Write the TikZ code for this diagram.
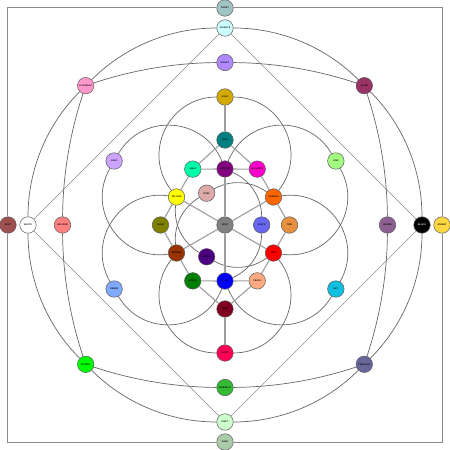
\documentclass[tikz,border=0pt]{standalone}
\usepackage{xcolor}

\definecolor{cCadet}{HTML}{A0C4C4}
\definecolor{cIce}{HTML}{CCFCFC}
\definecolor{cViolet}{HTML}{B088FF}
\definecolor{cPink}{HTML}{FF99CC}
\definecolor{cPlum}{HTML}{993366}
\definecolor{cGold}{HTML}{D4AA00}
\definecolor{cTeal}{HTML}{008080}
\definecolor{cLilac}{HTML}{CCA3FF}
\definecolor{cLime}{HTML}{A3FF80}
\definecolor{cAqua}{HTML}{00FFAA}
\definecolor{cPurple}{HTML}{800080}
\definecolor{cMagenta}{HTML}{FF00CC}
\definecolor{cYellow}{HTML}{FFFF00}
\definecolor{cRose}{HTML}{DDAAAA}
\definecolor{cOrange}{HTML}{FF6600}
\definecolor{cOlive}{HTML}{808000}
\definecolor{cGray}{HTML}{808080}
\definecolor{cSlate}{HTML}{6666EE}
\definecolor{cTan}{HTML}{E69040}
\definecolor{cBrown}{HTML}{993300}
\definecolor{cIndigo}{HTML}{4B0082}
\definecolor{cRed}{HTML}{FF0000}
\definecolor{cGreen}{HTML}{008000}
\definecolor{cBlue}{HTML}{0000FF}
\definecolor{cPeach}{HTML}{FFAA80}
\definecolor{cWine}{HTML}{800020}
\definecolor{cRuby}{HTML}{FF0055}
\definecolor{cRust}{HTML}{A05050}
\definecolor{cSalmon}{HTML}{FF8080}
\definecolor{cDenim}{HTML}{80AAFF}
\definecolor{cSky}{HTML}{10C0E0}
\definecolor{cMauve}{HTML}{8C6090}
\definecolor{cAmber}{HTML}{FFD740}
\definecolor{cSpring}{HTML}{00FF00}
\definecolor{cDusk}{HTML}{666699}
\definecolor{cEmerald}{HTML}{33BB33}
\definecolor{cMint}{HTML}{CCFFCC}
\definecolor{cSage}{HTML}{AACCAA}

\begin{document}
\begin{tikzpicture}[x=1pt, y=1pt,
  ball/.style={circle, draw=black!65, line width=0.5pt, minimum size=16.5pt,
    inner sep=0pt, font=\fontsize{2.3}{2.6}\selectfont\sffamily\bfseries},
  boxline/.style={draw=black!45, line width=1pt},
  spoke/.style={draw=black!38, line width=1.1pt},
  chord/.style={draw=black!45, line width=0.6pt},
  arcline/.style={draw=black!60, line width=0.7pt},
  petal/.style={arcline, looseness=1.18},
  inner/.style={arcline, looseness=0.93},
  rim/.style={arcline, bend left=22.5, looseness=0.885},
  belt/.style={arcline, bend left=9, looseness=0.85}]
\useasboundingbox (-225,-225) rectangle (225,225);

% outer frame nodes
\node[ball, fill=cCadet] (cadet) at (0,217) {CADET};
\node[ball, fill=cSage] (sage) at (0,-217) {SAGE};
\node[ball, fill=cRust] (rust) at (-217,0) {RUST};
\node[ball, fill=cAmber] (amber) at (217,0) {AMBER};

% big circle
\node[ball, fill=cIce] (ice) at (90:197) {CELESTE};
\node[ball, fill=cPlum] (plum) at (45:197) {PLUM};
\node[ball, fill=black, text=white] (black) at (0:197) {BLACK};
\node[ball, fill=cDusk] (dusk) at (-45:197) {TWILIGHT};
\node[ball, fill=cMint] (mint) at (-90:197) {MINT};
\node[ball, fill=cSpring] (spring) at (-135:197) {SPRING};
\node[ball, fill=white] (white) at (180:197) {WHITE};
\node[ball, fill=cPink] (pink) at (135:197) {FLAMINGO};

% second ring
\node[ball, fill=cViolet] (violet) at (90:162.5) {VIOLET};
\node[ball, fill=cMauve] (mauve) at (0:162.5) {MAUVE};
\node[ball, fill=cEmerald] (emerald) at (-90:162.5) {EMERALD};
\node[ball, fill=cSalmon] (salmon) at (180:162.5) {SALMON};

% petal tips
\node[ball, fill=cGold] (gold) at (90:128) {GOLD};
\node[ball, fill=cLime] (lime) at (30:128) {LIME};
\node[ball, fill=cSky] (sky) at (-30:128) {SKY};
\node[ball, fill=cRuby] (ruby) at (-90:128) {RUBY};
\node[ball, fill=cDenim] (denim) at (210:128) {DENIM};
\node[ball, fill=cLilac] (lilac) at (150:128) {LILAC};

\node[ball, fill=cTeal] (teal) at (0,85) {TEAL};
\node[ball, fill=cWine] (wine) at (0,-84) {WINE};

% hexagon corners
\node[ball, fill=cTan] (tan) at (0:64.5) {TAN};
\node[ball, fill=cMagenta] (magenta) at (60:64.5) {MAGENTA};
\node[ball, fill=cAqua] (aqua) at (120:64.5) {AQUA};
\node[ball, fill=cOlive] (olive) at (180:64.5) {OLIVE};
\node[ball, fill=cGreen] (green) at (240:64.5) {GREEN};
\node[ball, fill=cPeach] (peach) at (300:64.5) {PEACH};

% hexagon sides
\node[ball, fill=cOrange] (orange) at (30:56) {ORANGE};
\node[ball, fill=cPurple] (purple) at (90:56) {PURPLE};
\node[ball, fill=cYellow] (yellow) at (150:56) {YELLOW};
\node[ball, fill=cBrown] (brown) at (210:56) {BROWN};
\node[ball, fill=cBlue] (blue) at (270:56) {BLUE};
\node[ball, fill=cRed] (red) at (330:56) {RED};

% triangle and centre
\node[ball, fill=cSlate] (slate) at (0:36.7) {SLATE};
\node[ball, fill=cRose] (rose) at (120:36.7) {ROSE};
\node[ball, fill=cIndigo] (indigo) at (240:36.7) {INDIGO};
\node[ball, fill=cGray] (gray) at (0,0) {GRAY};

% frame
\draw[boxline] (cadet) -| (rust);
\draw[boxline] (cadet) -| (amber);
\draw[boxline] (sage) -| (rust);
\draw[boxline] (sage) -| (amber);

% diamond
\draw[chord] (ice) -- (white);
\draw[chord] (ice) -- (black);
\draw[chord] (mint) -- (white);
\draw[chord] (mint) -- (black);

% big circle
\draw[rim] (ice) to (plum);
\draw[rim] (plum) to (black);
\draw[rim] (black) to (dusk);
\draw[rim] (dusk) to (mint);
\draw[rim] (mint) to (spring);
\draw[rim] (spring) to (white);
\draw[rim] (white) to (pink);
\draw[rim] (pink) to (ice);

% second ring
\draw[belt] (violet) to (plum);
\draw[belt] (plum) to (mauve);
\draw[belt] (mauve) to (dusk);
\draw[belt] (dusk) to (emerald);
\draw[belt] (emerald) to (spring);
\draw[belt] (spring) to (salmon);
\draw[belt] (salmon) to (pink);
\draw[belt] (pink) to (violet);

% petals
\draw[petal] (gold) to[bend right=64] (yellow);
\draw[petal] (gold) to[bend left=64] (orange);
\draw[petal] (lilac) to[bend right=64] (brown);
\draw[petal] (lilac) to[bend left=64] (purple);
\draw[petal] (denim) to[bend right=64] (blue);
\draw[petal] (denim) to[bend left=64] (yellow);
\draw[petal] (ruby) to[bend right=64] (red);
\draw[petal] (ruby) to[bend left=64] (brown);
\draw[petal] (sky) to[bend right=64] (orange);
\draw[petal] (sky) to[bend left=64] (blue);
\draw[petal] (lime) to[bend right=64] (purple);
\draw[petal] (lime) to[bend left=64] (red);

% triangle arcs
\draw[inner] (rose) to[bend left=33] (orange);
\draw[inner] (rose) to[bend right=33] (brown);
\draw[inner] (indigo) to[bend left=33] (yellow);
\draw[inner] (indigo) to[bend right=33] (red);
\draw[inner] (slate) to[bend left=33] (blue);
\draw[inner] (slate) to[bend right=33] (purple);

% hexagon
\draw[spoke] (aqua) -- (purple);
\draw[spoke] (purple) -- (magenta);
\draw[spoke] (magenta) -- (orange);
\draw[spoke] (orange) -- (tan);
\draw[spoke] (tan) -- (red);
\draw[spoke] (red) -- (peach);
\draw[spoke] (peach) -- (blue);
\draw[spoke] (blue) -- (green);
\draw[spoke] (green) -- (brown);
\draw[spoke] (brown) -- (olive);
\draw[spoke] (olive) -- (yellow);
\draw[spoke] (yellow) -- (aqua);

% centre star
\draw[spoke] (gray) -- (purple);
\draw[spoke] (gray) -- (blue);
\draw[spoke] (gray) -- (yellow);
\draw[spoke] (gray) -- (orange);
\draw[spoke] (gray) -- (brown);
\draw[spoke] (gray) -- (red);

% top and bottom
\draw[spoke] (gold) -- (teal);
\draw[spoke] (teal) -- (aqua);
\draw[spoke] (teal) -- (magenta);
\draw[spoke] (ruby) -- (wine);
\draw[spoke] (wine) -- (green);
\draw[spoke] (wine) -- (peach);
\end{tikzpicture}
\end{document}
